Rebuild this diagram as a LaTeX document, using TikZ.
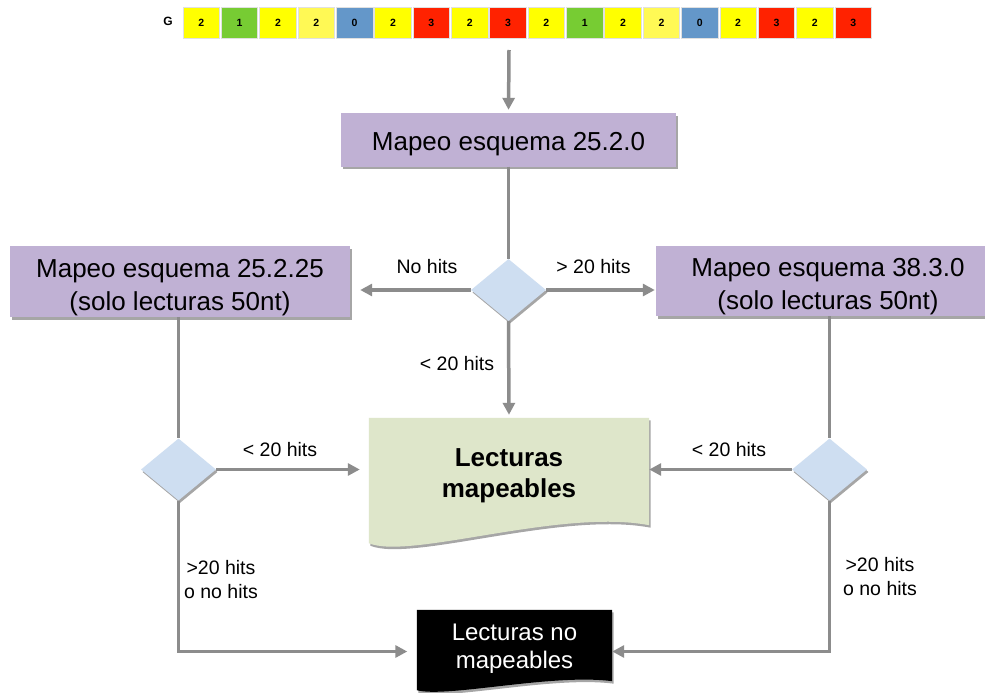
\documentclass[tikz,border=0pt]{standalone}
\usepackage{fontspec}
\setmainfont{Liberation Sans}
\usetikzlibrary{shapes.geometric,arrows.meta,shadows,calc}

\definecolor{lav}{HTML}{C0B1D4}
\definecolor{decblue}{HTML}{CEDEF1}
\definecolor{docgreen}{HTML}{DEE6CA}
\definecolor{conngray}{HTML}{8C8C8C}
\definecolor{cY}{HTML}{FFFF00}
\definecolor{cL}{HTML}{FFF955}
\definecolor{cG}{HTML}{77CC33}
\definecolor{cB}{HTML}{6497C9}
\definecolor{cR}{HTML}{FF2200}

% extra room above the first text line, to lower the text in its box
\newcommand{\toproom}[1]{\rule{0pt}{#1}}

\tikzset{
  soft shadow/.style={drop shadow={shadow xshift=1.5pt, shadow yshift=-2.5pt, opacity=0.35, fill=black}},
  cell/.style={draw=black!12, line width=0.8pt, minimum width=36.5pt, minimum height=31pt,
    inner sep=0, font=\fontsize{10.5}{12}\selectfont\bfseries},
  proc/.style={fill=lav, inner sep=0, align=center, font=\fontsize{26}{33}\selectfont, soft shadow},
  dec/.style={diamond, fill=decblue, minimum width=75pt, minimum height=62pt, inner sep=0, soft shadow},
  conn/.style={draw=conngray, line width=3.5pt},
  arr/.style={conn, -{Triangle[length=12pt,width=12pt]}},
  lab/.style={font=\fontsize{19.5}{24}\selectfont, align=center, inner sep=0},
}

\begin{document}
\begin{tikzpicture}[x=1pt,y=-1pt]
\useasboundingbox (0,0) rectangle (985,693);
\fill[white] (0,0) rectangle (985,693);

% read sequence
\node[font=\fontsize{12}{14}\selectfont\bfseries, inner sep=0] (g) at (168,21) {G};
\foreach \c/\d [count=\i] in {Y/2,G/1,Y/2,L/2,B/0,Y/2,R/3,Y/2,R/3,Y/2,G/1,Y/2,L/2,B/0,Y/2,R/3,Y/2,R/3}
  \node[cell, fill=c\c] (c\i) at ({162.9+\i*38.35},22.5) {\d};
\coordinate (seqout) at (509,50);

% process boxes and decisions
\node[proc, minimum width=335pt, minimum height=53.5pt] (top) at (508.5,139.75)
  {\toproom{27pt}Mapeo esquema 25.2.0};
\node[dec] (dtop) at (508.5,290) {};
\node[proc, minimum width=340pt, minimum height=71pt] (lbox) at (180,281.5)
  {\toproom{30pt}Mapeo esquema 25.2.25\\(solo lecturas 50nt)};
\node[proc, minimum width=344pt, minimum height=70pt] (rbox) at (828,281)
  {\toproom{30pt}Mapeo esquema 38.3.0\\(solo lecturas 50nt)};
\node[dec] (ldec) at (178.5,469.5) {};
\node[dec] (rdec) at (829.5,469.5) {};

% document: mapped reads
\node[minimum width=280pt, minimum height=107pt, inner sep=0] (map) at (509,471.5) {};
\fill[docgreen, soft shadow] (map.north west) -- (map.north east) -- (map.south east)
  .. controls +(-89,-17) and +(41,17) .. ($(map.south west)+(0,18)$) -- cycle;
\node[font=\fontsize{26}{31}\selectfont\bfseries, align=center, inner sep=0] (maptext) at (map.center)
  {\toproom{26pt}Lecturas\\mapeables};

% document: unmapped reads
\node[minimum width=195pt, minimum height=71pt, inner sep=0] (nomap) at (514.5,645.5) {};
\fill[black, soft shadow] (nomap.north west) -- (nomap.north east) -- (nomap.south east)
  .. controls +(-60,-8) and +(30,8) .. ($(nomap.south west)+(0,9)$) -- cycle;
\node[text=white, font=\fontsize{24}{28}\selectfont, align=center, inner sep=0] (nomaptext) at (nomap.center)
  {\toproom{23pt}Lecturas no\\mapeables};

% connectors
\draw[arr, shorten >=3pt] (seqout) -- (top.north);
\draw[conn] (top.south) -- (dtop.north);
\draw[arr, shorten >=10pt] (dtop.west) -- (dtop.west -| lbox.east);
\draw[arr, shorten >=1pt] (dtop.east) -- (dtop.east -| rbox.west);
\draw[arr, shorten >=3pt] (dtop.south) -- (map.north);
\draw[conn] (lbox.south -| ldec) -- (ldec.north);
\draw[conn] (rbox.south -| rdec) -- (rdec.north);
\draw[arr, shorten >=9pt] (ldec.east) -- (ldec.east -| map.west);
\draw[arr] (rdec.west) -- (rdec.west -| map.east);
\draw[arr, shorten >=9.5pt] (ldec.south) |- ([yshift=-6pt]nomap.west);
\draw[arr] (rdec.south) |- ([yshift=-6pt]nomap.east);

% connector labels
\node[lab] (lnohits) at (427,267) {No hits};
\node[lab] (lgt) at (593.5,267) {> 20 hits};
\node[lab] (llt) at (457,364) {< 20 hits};
\node[lab] (lltl) at (280,450) {< 20 hits};
\node[lab] (lltr) at (729,450) {< 20 hits};
\node[lab] (lgtl) at (221,579.5) {>20 hits\\o no hits};
\node[lab] (lgtr) at (880,576.5) {>20 hits\\o no hits};
\end{tikzpicture}
\end{document}
